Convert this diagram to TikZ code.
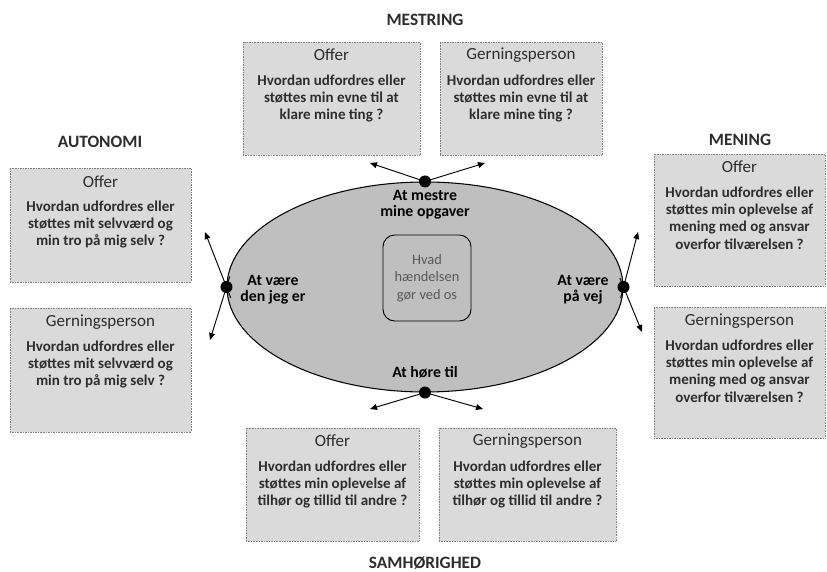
\documentclass[tikz,border=0pt]{standalone}
\usepackage{fontspec}
\setmainfont{Carlito}
\usetikzlibrary{shapes.geometric, arrows.meta, positioning, calc, fit}
\definecolor{boxgray}{RGB}{218, 218, 218}
\definecolor{ellgray}{RGB}{191, 191, 191}
\definecolor{txtgray}{RGB}{45, 45, 45}

\begin{document}
\begin{tikzpicture}[
  x=0.03cm, y=-0.03cm,
  qbox/.style={draw=gray, densely dotted, fill=boxgray, inner sep=0pt},
  ttl/.style={font=\fontsize{14.5}{17}\selectfont, text=txtgray, inner sep=0pt},
  body/.style={font=\fontsize{12.8}{14.7}\selectfont\bfseries, text=txtgray, align=center, inner sep=0pt},
  dim/.style={font=\fontsize{14.8}{16}\selectfont\bfseries, text=txtgray},
  lbl/.style={font=\fontsize{13.5}{14}\selectfont\bfseries, align=center, inner sep=0pt},
  dot/.style={circle, fill=black, minimum size=12*0.03cm, inner sep=0pt},
  arr/.style={-{Triangle[length=6pt, width=5pt]}, line width=0.8pt},
]
  \useasboundingbox (0,0) rectangle (827,572);

  % ellipse and centre
  \node[draw, ellipse, fill=ellgray, line width=0.9pt, minimum width=396*0.03cm, minimum height=210*0.03cm] (ell) at (425,287) {};
  \node[draw, fill=ellgray, rounded corners=10pt, line width=0.8pt, fit={(383,235) (471,321)}, inner sep=0pt] (ctr) {};
  \node[font=\fontsize{12.3}{15}\selectfont, text=black!65, align=center] (ctr-t) at (ctr) {Hvad\\hændelsen\\gør ved os};

  \node[lbl] (lm) at (425,205) {At mestre\\mine opgaver};
  \node[lbl] (la) at (273,290) {At være\\den jeg er};
  \node[lbl] (lp) at (583,290) {At være\\på vej};
  \node[lbl] (ls) at (425,372) {At høre til};

  % dots and arrows
  \node[dot] (dn) at (ell.north) {};
  \node[dot] (ds) at (ell.south) {};
  \node[dot] (dw) at (ell.west) {};
  \node[dot] (de) at (ell.east) {};
  \coordinate (an1) at (370,163);
  \coordinate (an2) at (485,163);
  \coordinate (as1) at (370,409);
  \coordinate (as2) at (483,409);
  \coordinate (aw1) at (205,232);
  \coordinate (aw2) at (210,340);
  \coordinate (ae1) at (638,232);
  \coordinate (ae2) at (642,332);
  \draw[arr] (dn.center) -- (an1);
  \draw[arr] (dn.center) -- (an2);
  \draw[arr] (ds.center) -- (as1);
  \draw[arr] (ds.center) -- (as2);
  \draw[arr] ($(dw)!-0.2!(aw1)$) -- (aw1);
  \draw[arr] ($(dw)!-0.2!(aw2)$) -- (aw2);
  \draw[arr] ($(de)!-0.2!(ae1)$) -- (ae1);
  \draw[arr] ($(de)!-0.2!(ae2)$) -- (ae2);

  % dimension titles
  \node[dim] (mes) at (425,20) {MESTRING};
  \node[dim] (aut) at (100,142) {AUTONOMI};
  \node[dim] (men) at (740,140) {MENING};
  \node[dim] (sam) at (425,563) {SAMHØRIGHED};

  % mestring
  \node[qbox, fit={(243,42) (420,155)}] (mo) {};
  \node[ttl] (mo-t) at ($(mo.north)+(0,13)$) {Offer};
  \node[body, anchor=north] (mo-b) at ($(mo.north)+(0,33)$) {Hvordan udfordres eller\\støttes min evne til at\\klare mine ting ?};
  \node[qbox, fit={(440,42) (602,155)}] (mg) {};
  \node[ttl] (mg-t) at ($(mg.north)+(0,13)$) {Gerningsperson};
  \node[body, anchor=north] (mg-b) at ($(mg.north)+(0,33)$) {Hvordan udfordres eller\\støttes min evne til at\\klare mine ting ?};

  % autonomi
  \node[qbox, fit={(10,168) (191,282)}] (ao) {};
  \node[ttl] (ao-t) at ($(ao.north)+(0,14)$) {Offer};
  \node[body, anchor=north] (ao-b) at ($(ao.north)+(0,33)$) {Hvordan udfordres eller\\støttes mit selvværd og\\min tro på mig selv ?};
  \node[qbox, fit={(10,308) (191,432)}] (ag) {};
  \node[ttl] (ag-t) at ($(ag.north)+(0,14)$) {Gerningsperson};
  \node[body, anchor=north] (ag-b) at ($(ag.north)+(0,33)$) {Hvordan udfordres eller\\støttes mit selvværd og\\min tro på mig selv ?};

  % mening
  \node[qbox, fit={(654,154) (825,286)}] (eo) {};
  \node[ttl] (eo-t) at ($(eo.north)+(0,13)$) {Offer};
  \node[body, anchor=north] (eo-b) at ($(eo.north)+(0,33)$) {Hvordan udfordres eller\\støttes min oplevelse af\\mening med og ansvar\\overfor tilværelsen ?};
  \node[qbox, fit={(654,307) (825,438)}] (eg) {};
  \node[ttl] (eg-t) at ($(eg.north)+(0,14)$) {Gerningsperson};
  \node[body, anchor=north] (eg-b) at ($(eg.north)+(0,33)$) {Hvordan udfordres eller\\støttes min oplevelse af\\mening med og ansvar\\overfor tilværelsen ?};

  % samhoerighed
  \node[qbox, fit={(246,428) (419,541)}] (so) {};
  \node[ttl] (so-t) at ($(so.north)+(0,13)$) {Offer};
  \node[body, anchor=north] (so-b) at ($(so.north)+(0,33)$) {Hvordan udfordres eller\\støttes min oplevelse af\\tilhør og tillid til andre ?};
  \node[qbox, fit={(439,428) (616,541)}] (sg) {};
  \node[ttl] (sg-t) at ($(sg.north)+(0,13)$) {Gerningsperson};
  \node[body, anchor=north] (sg-b) at ($(sg.north)+(0,33)$) {Hvordan udfordres eller\\støttes min oplevelse af\\tilhør og tillid til andre ?};
\end{tikzpicture}
\end{document}
